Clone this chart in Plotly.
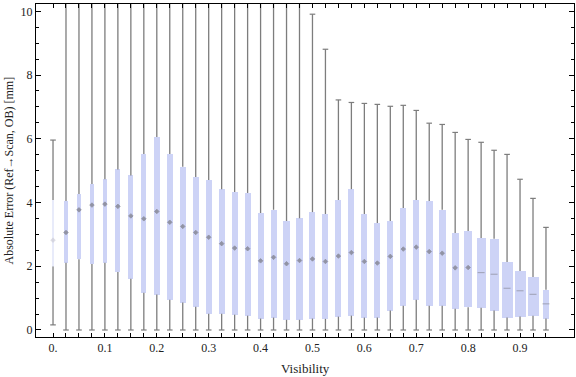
import plotly.graph_objects as go

# ---- data ----
visibility = [0.0, 0.025, 0.05, 0.075, 0.1, 0.125, 0.15, 0.175, 0.2, 0.225,
              0.25, 0.275, 0.3, 0.325, 0.35, 0.375, 0.4, 0.425, 0.45, 0.475,
              0.5, 0.525, 0.55, 0.575, 0.6, 0.625, 0.65, 0.675, 0.7, 0.725,
              0.75, 0.775, 0.8, 0.825, 0.85, 0.875, 0.9, 0.925, 0.95]
q3 = [4.08, 4.05, 4.27, 4.58, 4.73, 5.04, 4.85, 5.52, 6.06, 5.52,
      5.12, 4.80, 4.71, 4.42, 4.33, 4.30, 3.67, 3.77, 3.42, 3.51,
      3.70, 3.64, 4.08, 4.42, 3.64, 3.36, 3.42, 3.83, 4.08, 4.05,
      3.77, 3.04, 3.11, 2.89, 2.86, 2.13, 1.85, 1.66, 1.26]
q1 = [1.99, 2.11, 2.22, 2.07, 2.11, 1.82, 1.61, 1.17, 1.11, 0.95,
      0.86, 0.73, 0.51, 0.51, 0.48, 0.45, 0.36, 0.39, 0.32, 0.32,
      0.36, 0.35, 0.42, 0.45, 0.39, 0.39, 0.61, 0.76, 0.95, 0.76,
      0.76, 0.67, 0.71, 0.70, 0.61, 0.39, 0.42, 0.45, 0.36]
median = [2.82, 3.06, 3.77, 3.92, 3.95, 3.88, 3.58, 3.49, 3.72, 3.38,
          3.25, 3.06, 2.91, 2.71, 2.57, 2.55, 2.17, 2.28, 2.08, 2.18,
          2.23, 2.15, 2.32, 2.43, 2.15, 2.10, 2.31, 2.54, 2.60, 2.46,
          2.41, 1.95, 1.96, 1.80, 1.75, 1.31, 1.23, 1.12, 0.82]
whisker_hi = [5.96, 12, 12, 12, 12, 12, 12, 12, 12, 12,
              12, 12, 12, 12, 12, 12, 12, 12, 12, 12,
              9.91, 8.81, 7.22, 7.14, 7.11, 7.08, 7.02, 7.05, 6.89, 6.49,
              6.45, 6.20, 5.98, 5.89, 5.64, 5.51, 4.73, 4.13, 3.22]
whisker_lo = [0.16, 0, 0, 0, 0, 0, 0, 0, 0, 0,
              0, 0, 0, 0, 0, 0, 0, 0, 0, 0,
              0, 0, 0, 0, 0, 0, 0, 0, 0, 0,
              0, 0, 0, 0, 0, 0, 0, 0, 0]
x_tick_vals = [0.0, 0.1, 0.2, 0.3, 0.4, 0.5, 0.6, 0.7, 0.8, 0.9]
x_tick_text = ["0.", "0.1", "0.2", "0.3", "0.4", "0.5", "0.6", "0.7", "0.8", "0.9"]

# ---- styles ----
box_widths_px = [1.5, 3.7, 3.3, 4.3, 4.7, 5, 5, 5, 6, 6,
                 6, 6, 6, 6, 6, 6, 6, 6, 6.3, 6.7,
                 6, 6, 6, 6, 6, 6, 6, 6, 6, 7,
                 7, 7, 7.3, 9, 9, 11, 11, 11, 6]
PX_PER_UNIT = 519.0
BOX_COLOR = "rgb(205,211,246)"
WHISK = "rgb(125,125,125)"
FONT = "Liberation Serif"
TXT = "#222222"

n = len(visibility)
fig = go.Figure()

# boxes
box_colors = [BOX_COLOR] * n
box_colors[0] = "rgb(232,235,250)"
fig.add_trace(go.Bar(
    x=visibility,
    y=[q3[i] - q1[i] for i in range(n)],
    base=q1,
    width=[w / PX_PER_UNIT for w in box_widths_px],
    marker=dict(color=box_colors, line=dict(width=0)),
    hoverinfo="skip", showlegend=False,
))

# whiskers (outside the box)
wx, wy = [], []
for i in range(n):
    wx += [visibility[i], visibility[i], None, visibility[i], visibility[i], None]
    wy += [whisker_lo[i], q1[i], None, q3[i], whisker_hi[i], None]
fig.add_trace(go.Scatter(
    x=wx, y=wy, mode="lines",
    line=dict(color=WHISK, width=1.3),
    hoverinfo="skip", showlegend=False,
))

# whisker caps
fig.add_trace(go.Scatter(
    x=visibility + visibility, y=whisker_lo + whisker_hi, mode="markers",
    marker=dict(symbol="line-ew", size=4, line=dict(color=WHISK, width=1.2)),
    hoverinfo="skip", showlegend=False,
))

# median markers
med_sym = ["diamond" if i < 33 else "line-ew" for i in range(n)]
med_col = ["rgb(120,120,130)"] * n
med_col[0] = "rgb(205,205,215)"
fig.add_trace(go.Scatter(
    x=visibility, y=median, mode="markers",
    marker=dict(symbol=med_sym, size=[3.5 if s == "diamond" else 5 for s in med_sym],
                color=med_col, line=dict(color=med_col, width=0.8)),
    hoverinfo="skip", showlegend=False,
))

axis_common = dict(
    showline=True, linecolor="black", linewidth=1, mirror="ticks",
    ticks="inside", tickcolor="black", showgrid=False, zeroline=False,
    tickfont=dict(family=FONT, size=12, color=TXT),
)

fig.update_layout(
    width=576, height=377, autosize=False,
    margin=dict(l=36, r=2, t=4, b=40),
    plot_bgcolor="white", paper_bgcolor="white",
    bargap=0,
    xaxis=dict(
        range=[-0.0328, 1.004],
        tickmode="array", tickvals=visibility,
        ticktext=[x_tick_text[x_tick_vals.index(v)] if v in x_tick_vals else "" for v in visibility],
        ticklen=4, tickangle=0,
        **axis_common,
    ),
    yaxis=dict(
        range=[-0.22, 10.23],
        tickmode="array", tickvals=[0, 2, 4, 6, 8, 10],
        ticktext=["0", "2", "4", "6", "8", "10"],
        ticklen=5,
        minor=dict(ticks="inside", dtick=0.5, tick0=0, ticklen=3, tickcolor="black", showgrid=False),
        **axis_common,
    ),
    annotations=[
        dict(text="Visibility", xref="paper", yref="paper",
             x=0.5, y=-0.0, xanchor="center", yanchor="top", yshift=-22,
             showarrow=False, font=dict(family=FONT, size=13, color=TXT)),
        dict(text="Absolute Error (Ref\u2192Scan, OB) [mm]", xref="paper", yref="paper",
             x=0, xshift=-28, y=0.5, xanchor="center", yanchor="middle",
             textangle=-90, showarrow=False, font=dict(family=FONT, size=12, color=TXT)),
    ],
)

fig.write_html("out.html",
               config={"displayModeBar": False},
               post_script="document.body.style.margin='0';document.body.style.overflow='hidden';")
